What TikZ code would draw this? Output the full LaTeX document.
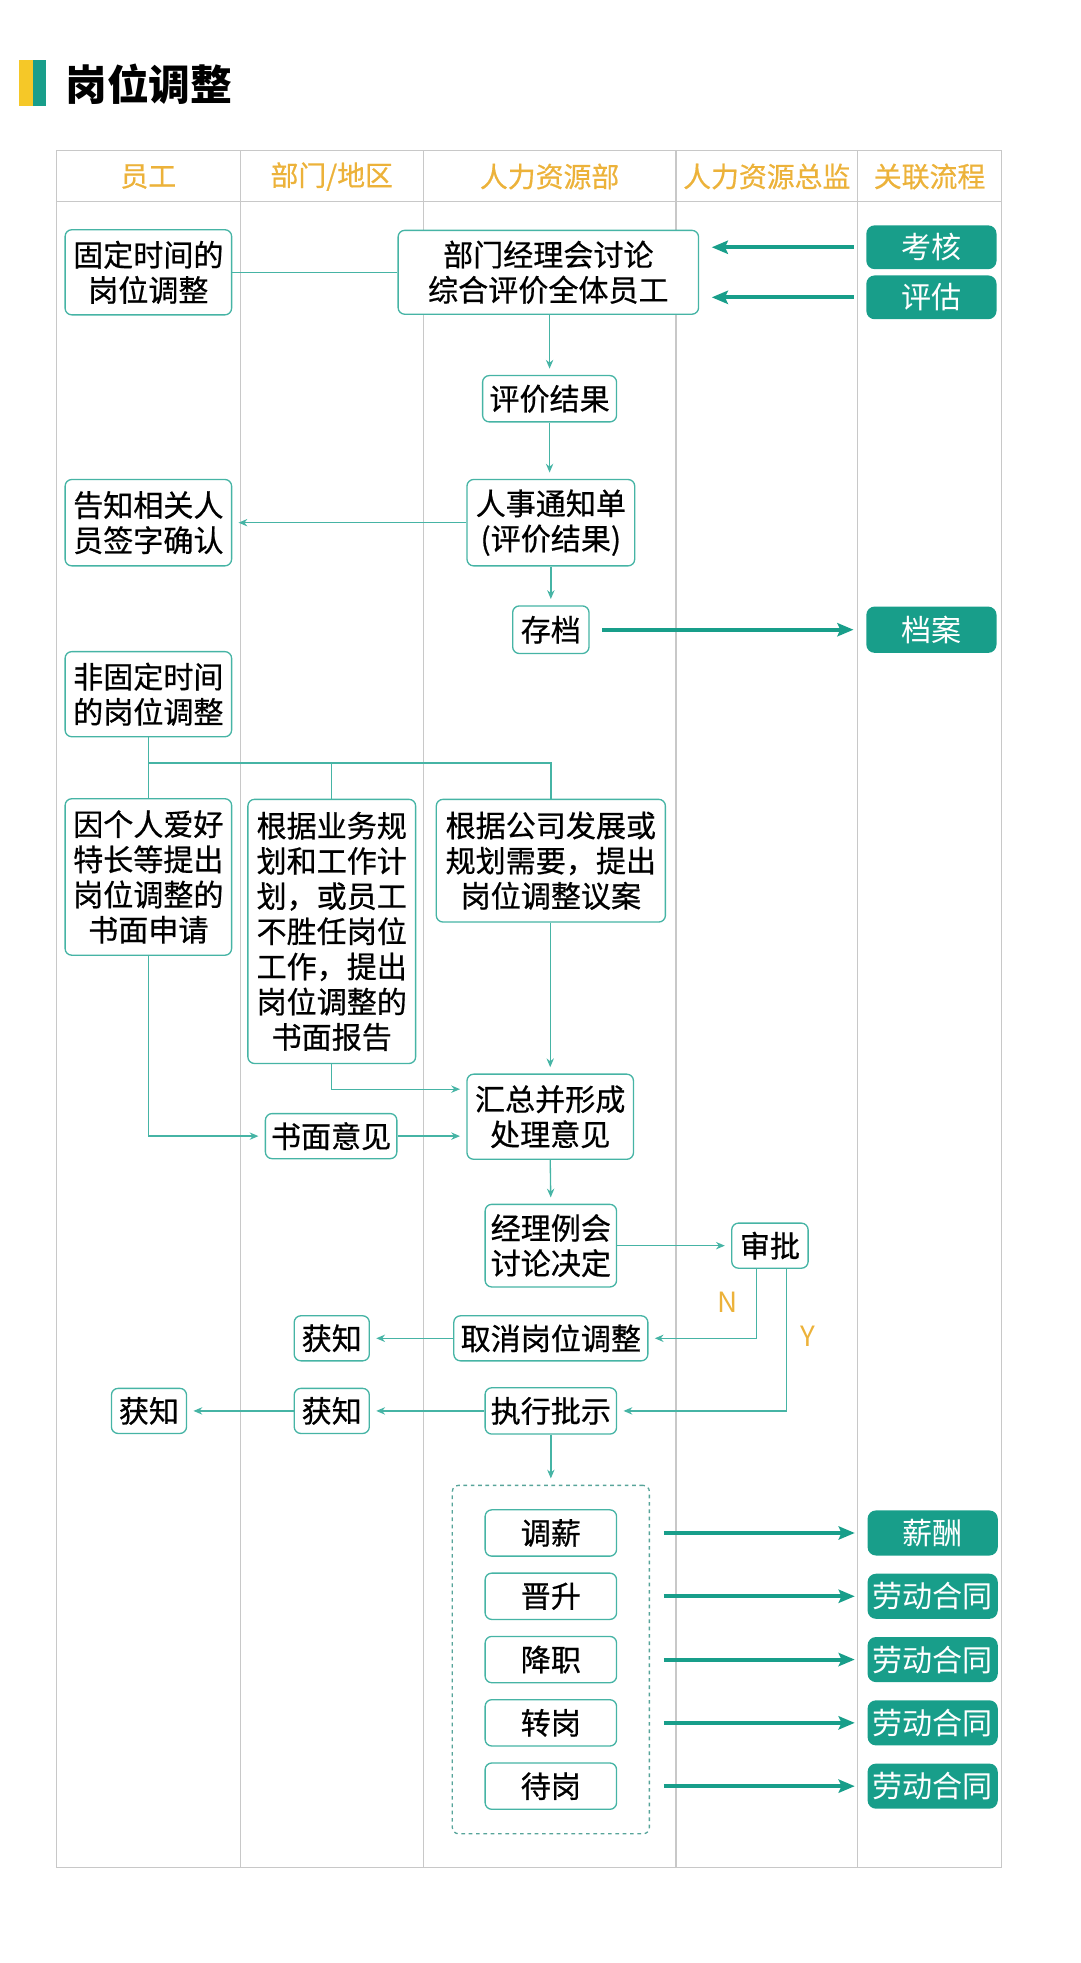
\documentclass[tikz,border=0pt]{standalone}
\usepackage{fontspec}
\setmainfont{Noto Sans CJK SC}
\newfontfamily\medfont{Noto Sans CJK SC}[FakeBold=0.6]
\usetikzlibrary{positioning, arrows.meta, calc, fit, backgrounds}

\definecolor{tealfill}{RGB}{24,158,138}
\definecolor{tealline}{RGB}{70,180,165}
\definecolor{gold}{RGB}{236,178,58}
\definecolor{lanegray}{RGB}{200,200,200}
\definecolor{baryellow}{RGB}{245,200,40}

\begin{document}
\begin{tikzpicture}[x=0.03cm, y=-0.03cm,
  wbox/.style={draw=tealline, fill=white, line width=0.9pt, rounded corners=1.6mm,
               align=center, inner sep=1pt, font=\medfont\fontsize{20.5}{24}\selectfont, text=black},
  item/.style={wbox, minimum width=3.15cm, minimum height=1.11cm},
  tbox/.style={fill=tealfill, rounded corners=2mm, minimum width=3.12cm, minimum height=1.08cm,
               align=center, inner sep=1pt, font=\fontsize{20.5}{24}\selectfont, text=white},
  arr/.style={-{Stealth[length=6pt, width=5pt]}, line width=0.9pt, color=tealline, shorten >=0.15cm},
  link/.style={line width=0.9pt, color=tealline},
  bigarr/.style={-{Stealth[length=11pt, width=9pt, inset=2pt]}, line width=2.7pt, color=tealfill,
                 shorten <=0.3cm, shorten >=0.3cm},
  lane/.style={draw=lanegray, line width=0.8pt},
  hdr/.style={font=\medfont\fontsize{19}{22}\selectfont, text=gold},
  yn/.style={font=\fontsize{19}{22}\selectfont, text=gold},
  gbox/.style={draw=tealline!70!gray, dash pattern=on 2.5pt off 2.5pt, rounded corners=1.5mm, line width=0.9pt},
]
\useasboundingbox (0,0) rectangle (863,1568);

% --- Title ---
\fill[baryellow] (15,48) rectangle (26,85);
\fill[tealfill] (26,48) rectangle (37,85);
\node[anchor=west, inner sep=0pt, font=\fontsize{28.5}{32}\selectfont\bfseries] (title) at (52,67) {岗位调整};

% --- Swimlanes ---
\draw[lane] (45,120) rectangle (800,1491.5);
\draw[lane] (45,161) -- (800,161);
\foreach \x in {192,338,540,685}
  \draw[lane] (\x,120) -- (\x,1491.5);

\node[hdr] (h1) at (118.5,141) {员工};
\node[hdr] (h2) at (265,141) {部门/地区};
\node[hdr] (h3) at (439,141) {人力资源部};
\node[hdr] (h4) at (612.5,141) {人力资源总监};
\node[hdr] (h5) at (742.5,141) {关联流程};

% --- Fixed-time adjustment ---
\node[wbox, minimum width=3.99cm, minimum height=2.04cm] (fix) at (118.5,217.5) {固定时间的\\岗位调整};
\node[wbox, minimum width=7.2cm, minimum height=2.01cm] (eval) at (438,217.5) {部门经理会讨论\\综合评价全体员工};
\node[tbox, minimum height=1.05cm] (kh) at (744,197.5) {考核};
\node[tbox, minimum height=1.05cm] (pg) at (744,237.5) {评估};
\node[wbox, minimum width=3.21cm, minimum height=1.11cm] (res) at (439,318.5) {评价结果};
\node[wbox, minimum width=4.02cm, minimum height=2.07cm] (notice) at (440,417.5) {人事通知单\\(评价结果)};
\node[wbox, minimum width=3.99cm, minimum height=2.07cm] (inform) at (118.5,417.5) {告知相关人\\员签字确认};
\node[wbox, minimum width=1.83cm, minimum height=1.14cm] (arch) at (440,503) {存档};
\node[tbox, minimum height=1.11cm] (dossier) at (744,503) {档案};

\draw[link] (fix.east) -- (fix.east -| eval.west);
\draw[bigarr] (kh.west) -- (kh.west -| eval.east);
\draw[bigarr] (pg.west) -- (pg.west -| eval.east);
\draw[arr] (eval.south -| res.north) -- (res.north);
\draw[arr] (res.south) -- (res.south |- notice.north);
\draw[arr] (notice.west) -- (inform.east);
\draw[arr] (notice.south -| arch.north) -- (arch.north);
\draw[bigarr] (arch.east) -- (dossier.west);

% --- Non-fixed-time adjustment ---
\node[wbox, minimum width=3.99cm, minimum height=2.04cm] (nonfix) at (118.5,554.5) {非固定时间\\的岗位调整};
\node[wbox, minimum width=3.99cm, minimum height=3.75cm] (apply) at (118.5,700.5)
  {因个人爱好\\特长等提出\\岗位调整的\\书面申请};
\node[wbox, minimum width=4.02cm, minimum height=6.33cm] (report) at (265,744)
  {根据业务规\\划和工作计\\划，或员工\\不胜任岗位\\工作，提出\\岗位调整的\\书面报告};
\node[wbox, minimum width=5.49cm, minimum height=2.94cm] (motion) at (440,687.5)
  {根据公司发展或\\规划需要，提出\\岗位调整议案};
\node[wbox, minimum width=3.99cm, minimum height=2.04cm] (summary) at (439.5,892) {汇总并形成\\处理意见};
\node[wbox, minimum width=3.15cm, minimum height=1.08cm] (opinion) at (264.5,907.5) {书面意见};

\coordinate (split) at (118.5,609.5);
\draw[link] (nonfix.south) -- (apply.north);
\draw[link] (split) -| (report.north);
\draw[link] (split) -| (motion.north);
\draw[arr] (motion.south -| summary.north) -- (summary.north);
\draw[arr] (report.south) |- ([yshift=0.66cm]summary.west);
\draw[arr] (apply.south) |- (opinion.west);
\draw[arr] (opinion.east) -- (opinion.east -| summary.west);

% --- Decision ---
\node[wbox, minimum width=3.15cm, minimum height=1.98cm] (meeting) at (440,995) {经理例会\\讨论决定};
\node[wbox, minimum width=1.83cm, minimum height=1.08cm] (approve) at (615,995) {审批};
\node[wbox, minimum width=4.65cm, minimum height=1.08cm] (cancel) at (440,1069) {取消岗位调整};
\node[wbox, minimum width=1.8cm, minimum height=1.08cm] (know1) at (265,1069) {获知};
\node[wbox, minimum width=3.15cm, minimum height=1.11cm] (exec) at (440,1127) {执行批示};
\node[wbox, minimum width=1.8cm, minimum height=1.08cm] (know2) at (265,1127) {获知};
\node[wbox, minimum width=1.8cm, minimum height=1.08cm] (know3) at (119,1127) {获知};

\draw[arr] (summary.south) -- (meeting.north);
\draw[arr] (meeting.east) -- (approve.west);
\draw[arr] ([xshift=-0.33cm]approve.south) |- (cancel.east);
\draw[arr] ([xshift=0.39cm]approve.south) |- (exec.east);
\node[yn] (nlbl) at (581,1040) {N};
\node[yn] (ylbl) at (645,1067) {Y};
\draw[arr] (cancel.west) -- (know1.east);
\draw[arr] (exec.west) -- (know2.east);
\draw[arr] (know2.west) -- (know3.east);

% --- Outcomes ---
\node[item] (i1) at (440,1224.5) {调薪};
\node[item, below=0.375cm of i1] (i2) {晋升};
\node[item, below=0.375cm of i2] (i3) {降职};
\node[item, below=0.375cm of i3] (i4) {转岗};
\node[item, below=0.375cm of i4] (i5) {待岗};

\node[tbox] (s1) at (745,1224.5) {薪酬};
\node[tbox] (s2) at (i2 -| s1) {劳动合同};
\node[tbox] (s3) at (i3 -| s1) {劳动合同};
\node[tbox] (s4) at (i4 -| s1) {劳动合同};
\node[tbox] (s5) at (i5 -| s1) {劳动合同};

\begin{scope}[on background layer]
  \node[gbox, fit=(i1)(i5), inner xsep=0.77cm, inner ysep=0.57cm] (grp) {};
\end{scope}

\draw[arr] (exec.south) -- (grp.north);
\draw[bigarr, shorten <=0.33cm] (i1.east -| grp.east) -- (s1.west);
\draw[bigarr, shorten <=0.33cm] (i2.east -| grp.east) -- (s2.west);
\draw[bigarr, shorten <=0.33cm] (i3.east -| grp.east) -- (s3.west);
\draw[bigarr, shorten <=0.33cm] (i4.east -| grp.east) -- (s4.west);
\draw[bigarr, shorten <=0.33cm] (i5.east -| grp.east) -- (s5.west);

\end{tikzpicture}
\end{document}
